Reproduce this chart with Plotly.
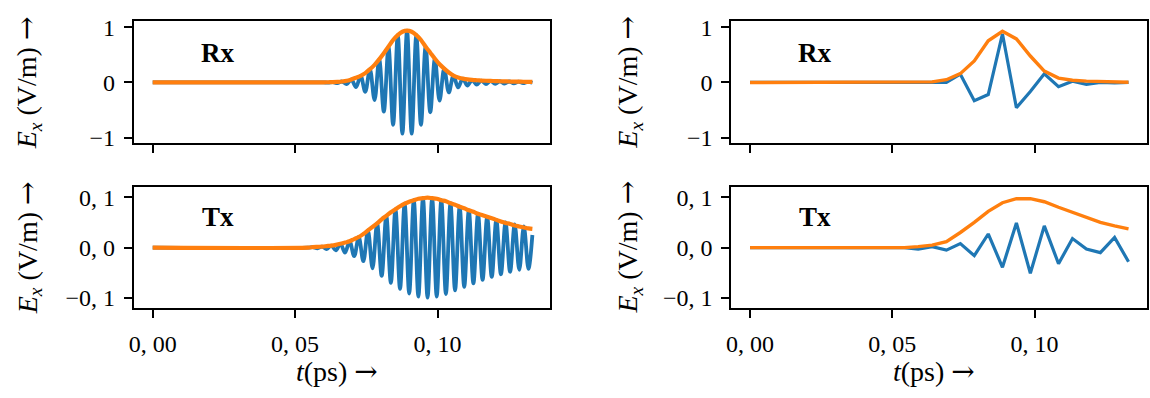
import plotly.graph_objects as go

# ---------------- data ----------------
# Left column: high-resolution signal, given by its successive extrema
rx_dense_t = [0.0, 0.0580,
              0.05996, 0.06159, 0.06322, 0.06485, 0.06648, 0.06811, 0.06974, 0.07137,
              0.07300, 0.07463, 0.07626, 0.07789, 0.07952, 0.08115, 0.08278, 0.08441,
              0.08604, 0.08767, 0.08930, 0.09093, 0.09256, 0.09419, 0.09582, 0.09745,
              0.09908, 0.10071, 0.10234, 0.10397, 0.10560, 0.10723, 0.10886, 0.11049,
              0.11212, 0.11375, 0.11538, 0.11701, 0.11864, 0.12027, 0.12190, 0.12353,
              0.12516, 0.12679, 0.12842, 0.13005, 0.13168, 0.1333]
rx_dense_field = [0.0, 0.0,
                  0.003, -0.004, 0.006, -0.010, 0.017, -0.030, 0.055, -0.085,
                  0.12, -0.17, 0.24, -0.32, 0.42, -0.53, 0.65, -0.77,
                  0.86, -0.93, 0.94, -0.93, 0.86, -0.77, 0.65, -0.54,
                  0.43, -0.33, 0.25, -0.18, 0.125, -0.09, 0.07, -0.055,
                  0.046, -0.04, 0.035, -0.031, 0.028, -0.025, 0.022, -0.02,
                  0.018, -0.016, 0.015, -0.013, 0.012, -0.005]
rx_dense_env = [0.0, 0.0,
                0.003, 0.004, 0.006, 0.010, 0.017, 0.030, 0.055, 0.085,
                0.12, 0.17, 0.24, 0.32, 0.42, 0.53, 0.65, 0.77,
                0.86, 0.92, 0.94, 0.92, 0.86, 0.77, 0.65, 0.54,
                0.43, 0.33, 0.25, 0.18, 0.125, 0.09, 0.07, 0.055,
                0.046, 0.04, 0.035, 0.031, 0.028, 0.025, 0.022, 0.02,
                0.018, 0.016, 0.015, 0.013, 0.012, 0.011]

tx_dense_t = [0.0, 0.0545,
              0.05625, 0.05786, 0.05947, 0.06108, 0.06269, 0.06430, 0.06591, 0.06752,
              0.06913, 0.07074, 0.07235, 0.07396, 0.07557, 0.07718, 0.07879, 0.08040,
              0.08201, 0.08362, 0.08523, 0.08684, 0.08845, 0.09006, 0.09167, 0.09328,
              0.09489, 0.09650, 0.09811, 0.09972, 0.10133, 0.10294, 0.10455, 0.10616,
              0.10777, 0.10938, 0.11099, 0.11260, 0.11421, 0.11582, 0.11743, 0.11904,
              0.12065, 0.12226, 0.12387, 0.12548, 0.12709, 0.12870, 0.13031, 0.13192,
              0.1333]
tx_dense_field = [0.0, 0.0,
                  0.001, -0.0015, 0.002, -0.003, 0.004, -0.0055, 0.0075, -0.010,
                  0.0125, -0.017, 0.021, -0.027, 0.034, -0.041, 0.048, -0.056,
                  0.063, -0.070, 0.076, -0.082, 0.087, -0.091, 0.094, -0.097,
                  0.098, -0.099, 0.098, -0.097, 0.094, -0.092, 0.088, -0.085,
                  0.081, -0.078, 0.074, -0.071, 0.067, -0.064, 0.061, -0.058,
                  0.055, -0.053, 0.050, -0.048, 0.046, -0.044, 0.042, -0.042,
                  0.025]
tx_dense_env = [0.0, 0.0,
                0.001, 0.0015, 0.002, 0.003, 0.004, 0.0055, 0.0075, 0.010,
                0.0125, 0.017, 0.021, 0.027, 0.034, 0.041, 0.048, 0.056,
                0.063, 0.070, 0.076, 0.082, 0.087, 0.091, 0.094, 0.097,
                0.098, 0.099, 0.098, 0.097, 0.094, 0.092, 0.088, 0.085,
                0.081, 0.078, 0.074, 0.071, 0.067, 0.064, 0.061, 0.058,
                0.055, 0.052, 0.049, 0.047, 0.044, 0.042, 0.040, 0.038,
                0.037]

# Right column: coarse sampling (28 samples)
coarse_t = [0.0, 0.0049, 0.0099, 0.0148, 0.0197, 0.0246, 0.0296, 0.0345, 0.0394,
            0.0443, 0.0493, 0.0542, 0.0591, 0.0640, 0.0690, 0.0739, 0.0788, 0.0837,
            0.0887, 0.0936, 0.0985, 0.1034, 0.1084, 0.1133, 0.1182, 0.1231, 0.1281,
            0.1330]
rx_coarse_field = [0, 0, 0, 0, 0, 0, 0, 0, 0, 0, 0, 0, 0.0, 0.0,
                   0.0, 0.15, -0.33, -0.22, 0.88, -0.46, -0.165, 0.158, -0.076, 0.023,
                   -0.035, 0.0, -0.01, 0.0]
rx_coarse_env = [0, 0, 0, 0, 0, 0, 0, 0, 0, 0, 0, 0, 0.003, 0.01,
                 0.05, 0.16, 0.39, 0.757, 0.93, 0.79, 0.48, 0.206, 0.08, 0.04,
                 0.025, 0.015, 0.01, 0.005]
tx_coarse_field = [0, 0, 0, 0, 0, 0, 0, 0, 0, 0, 0, 0, -0.003, 0.002,
                   -0.005, 0.008, -0.016, 0.027, -0.039, 0.049, -0.051, 0.043, -0.032, 0.018,
                   -0.003, -0.01, 0.02, -0.028]
tx_coarse_env = [0, 0, 0, 0, 0, 0, 0, 0, 0, 0, 0, 0, 0.002, 0.005,
                 0.012, 0.03, 0.05, 0.072, 0.089, 0.097, 0.097, 0.091, 0.080, 0.070,
                 0.059, 0.050, 0.043, 0.037]

x_tick_vals = [0.0, 0.05, 0.10]
x_tick_text = ["0, 00", "0, 05", "0, 10"]
rx_tick_vals = [-1, 0, 1]
rx_tick_text = ["\u22121", "0", "1"]
tx_tick_vals = [-0.1, 0.0, 0.1]
tx_tick_text = ["\u22120, 1", "0, 0", "0, 1"]

# ---------------- styling ----------------
BLUE = "#1f77b4"
ORANGE = "#ff7f0e"
FONT = "Liberation Serif"
FS = 24
ARROW = "<span style=\"font-family:'DejaVu Serif'\">\u2192</span>"
NB = "\u00a0"

fig = go.Figure()

panels = [
    ("x", "y", rx_dense_t, rx_dense_field, rx_dense_t, rx_dense_env, "spline", 3.8, 4.2),
    ("x2", "y2", coarse_t, rx_coarse_field, coarse_t, rx_coarse_env, "linear", 3.2, 3.4),
    ("x3", "y3", tx_dense_t, tx_dense_field, tx_dense_t, tx_dense_env, "spline", 3.8, 4.2),
    ("x4", "y4", coarse_t, tx_coarse_field, coarse_t, tx_coarse_env, "linear", 3.2, 3.4),
]
for xa, ya, t, f, te, e, shape, wb, wo in panels:
    fig.add_trace(go.Scatter(x=t, y=f, xaxis=xa, yaxis=ya, mode="lines",
                             line=dict(color=BLUE, width=wb, shape=shape, smoothing=1.0),
                             showlegend=False))
    fig.add_trace(go.Scatter(x=te, y=e, xaxis=xa, yaxis=ya, mode="lines",
                             line=dict(color=ORANGE, width=wo, shape=shape, smoothing=1.0),
                             showlegend=False))

W, H = 1150, 398
xl = [129.3 / W, 547.7 / W]
xr = [729.3 / W, 1147.3 / W]
yt = [1 - 142.0 / H, 1 - 15.7 / H]
yb = [1 - 312.3 / H, 1 - 186.7 / H]
xrange_ = [-0.00665, 0.1396]

common_axis = dict(showline=True, mirror=True, linecolor="black", linewidth=1.8,
                   ticks="outside", ticklen=8, tickwidth=1.6, tickcolor="black",
                   showgrid=False, zeroline=False,
                   tickfont=dict(family=FONT, size=FS, color="black"))

def xaxis(domain, anchor, labels):
    d = dict(common_axis)
    d.update(domain=domain, anchor=anchor, range=xrange_, tickvals=x_tick_vals,
             ticktext=x_tick_text, showticklabels=labels, ticklabelstandoff=5)
    return d

def yaxis(domain, anchor, vals, text, rng):
    d = dict(common_axis)
    d.update(domain=domain, anchor=anchor, range=rng, tickvals=vals, ticktext=text,
             ticklabelstandoff=4)
    return d

fig.update_layout(
    width=W, height=H,
    margin=dict(l=0, r=0, t=0, b=0),
    paper_bgcolor="white", plot_bgcolor="white",
    font=dict(family=FONT, size=FS, color="black"),
    xaxis=xaxis(xl, "y", False),
    yaxis=yaxis(yt, "x", rx_tick_vals, rx_tick_text, [-1.105, 1.112]),
    xaxis2=xaxis(xr, "y2", False),
    yaxis2=yaxis(yt, "x2", rx_tick_vals, rx_tick_text, [-1.105, 1.112]),
    xaxis3=xaxis(xl, "y3", True),
    yaxis3=yaxis(yb, "x3", tx_tick_vals, tx_tick_text, [-0.12, 0.121]),
    xaxis4=xaxis(xr, "y4", True),
    yaxis4=yaxis(yb, "x4", tx_tick_vals, tx_tick_text, [-0.12, 0.121]),
)

ann = []
ylabel = "<i>E</i><sub><i>x</i></sub>" + NB + "(V/m)" + NB + ARROW
for xc in (24 / W, 627 / W):
    for yc in (1 - 79 / H, 1 - 249.5 / H):
        ann.append(dict(text=ylabel, x=xc, y=yc, xref="paper", yref="paper",
                        textangle=-90, showarrow=False, xanchor="center", yanchor="middle",
                        font=dict(family=FONT, size=28, color="black")))
for xc in (333 / W, 933 / W):
    ann.append(dict(text="<i>t</i>(ps)" + NB + ARROW, x=xc, y=1 - 378 / H,
                    xref="paper", yref="paper",
                    showarrow=False, xanchor="center", yanchor="middle",
                    font=dict(family=FONT, size=28, color="black")))
for xa, ya, yv, lab in (("x", "y", 0.53, "Rx"), ("x2", "y2", 0.53, "Rx"),
                        ("x3", "y3", 0.06, "Tx"), ("x4", "y4", 0.06, "Tx")):
    ann.append(dict(text="<b>" + lab + "</b>", x=0.0228, y=yv, xref=xa, yref=ya,
                    showarrow=False, xanchor="center", yanchor="middle",
                    font=dict(family=FONT, size=27, color="black")))
fig.update_layout(annotations=ann)

fig.write_html("out.html")
